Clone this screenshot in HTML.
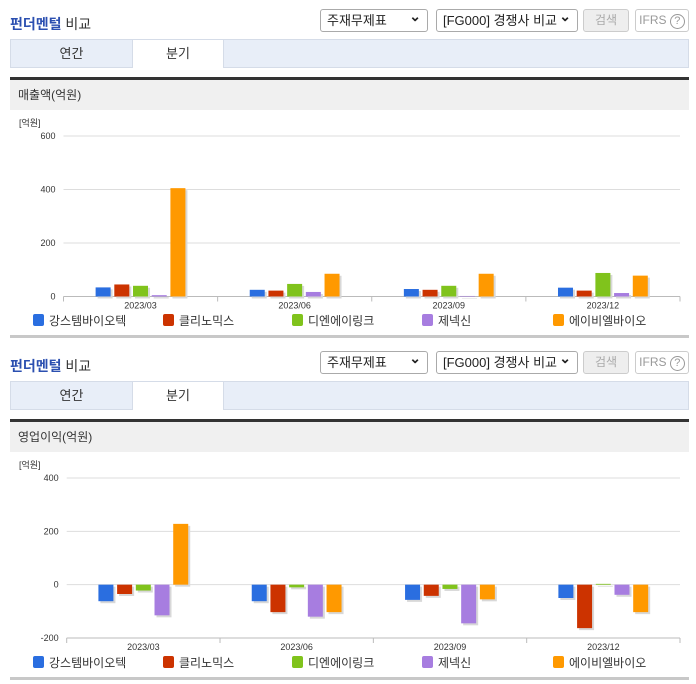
<!DOCTYPE html>
<html><head><meta charset="utf-8">
<style>
*{box-sizing:border-box;margin:0;padding:0}
body{width:696px;height:684px;background:#fff;font-family:"Liberation Sans","Noto Sans CJK KR",sans-serif;position:relative;overflow:hidden;color:#333}
.abs{position:absolute}
.title{font-size:14px;font-weight:bold;color:#2b4fb0;left:10px}
.title span{color:#333;font-weight:normal}
.sel{border:1px solid #aaa;border-radius:3px;height:23px;font-size:13px;line-height:21px;padding-left:6px;background:#fff;color:#222}
.sel:after{content:"⌄";position:absolute;right:6px;top:-4px;font-size:14px;font-weight:bold}
.btn{border:1px solid #ccc;border-radius:3px;height:23px;font-size:12px;line-height:21px;text-align:center;color:#aaa}
.tabbar{left:10px;width:679px;height:29px;background:#e8eef8;border:1px solid #d5dce8}
.tab{top:0;height:28px;font-size:13px;line-height:27px;text-align:center;color:#333}
.dark{left:10px;width:679px;height:3px;background:#333}
.hdr{left:10px;width:679px;height:30px;background:#f0f0f0;font-size:12px;line-height:30px;padding-left:8px;color:#333}
.bot{left:10px;width:679px;height:3px;background:#c8c8c8}
svg text{font-family:"Liberation Sans","Noto Sans CJK KR",sans-serif}
</style></head><body>
<div id="root"></div>
<script>
const categories=["2023/03","2023/06","2023/09","2023/12"];
const seriesNames=["강스템바이오텍","클리노믹스","디엔에이링크","제넥신","에이비엘바이오"];
const seriesColors=["#2a6ee0","#cc3300","#80c31c","#a77de0","#ff9900"];
const salesBlue=[34,25,28,33];
const salesRed=[45,22,25,22];
const salesGreen=[40,47,40,88];
const salesPurple=[5,17,2,13];
const salesOrange=[405,85,85,78];
const salesTicks=[0,200,400,600];
const opBlue=[-62,-62,-57,-50];
const opRed=[-35,-103,-42,-163];
const opGreen=[-22,-10,-16,3];
const opPurple=[-115,-120,-145,-38];
const opOrange=[228,-103,-55,-103];
const opTicks=[-200,0,200,400];

const root=document.getElementById('root');
const NS="http://www.w3.org/2000/svg";
function div(cls,style,html,name,inter){const d=document.createElement('div');d.className='abs '+cls;d.style.cssText=style;if(html)d.innerHTML=html;


root.appendChild(d);return d;}
function sv(tag,attrs,parent){const e=document.createElementNS(NS,tag);for(const k in attrs)e.setAttribute(k,attrs[k]);parent.appendChild(e);return e;}

function section(y0,label,series,ticks,yTop,yBot,xL,prefix){
  div('title','top:'+(y0+14)+'px','펀더멘털 <span>비교</span>',prefix+'-title',false);
  div('sel','left:320px;top:'+(y0+9)+'px;width:108px','주재무제표',prefix+'-statement-select',true);
  div('sel','left:436px;top:'+(y0+9)+'px;width:142px','[FG000] 경쟁사 비교',prefix+'-group-select',true);
  div('btn','left:583px;top:'+(y0+9)+'px;width:46px;background:#eee','검색',prefix+'-search-button',true);
  div('btn','left:635px;top:'+(y0+9)+'px;width:54px;color:#999','IFRS <span style="border:1px solid #999;border-radius:50%;display:inline-block;width:15px;height:15px;line-height:13px;font-size:11px">?</span>',prefix+'-ifrs-help',true);
  const tb=div('tabbar','top:'+(y0+39)+'px','',prefix+'-tab-bar',false);
  const t1=document.createElement('div');t1.className='abs tab';t1.style.cssText='left:0;width:121px';t1.textContent='연간';
  
  
  tb.appendChild(t1);
  const t2=document.createElement('div');t2.className='abs tab';t2.style.cssText='left:121px;width:92px;background:#fff;height:28px;border-left:1px solid #d5dce8;border-right:1px solid #d5dce8';t2.textContent='분기';
  
  
  tb.appendChild(t2);
  div('dark','top:'+(y0+77)+'px','',prefix+'-divider',false);
  div('hdr','top:'+(y0+80)+'px',label,prefix+'-chart-header',false);
  div('bot','top:'+(y0+335)+'px','',prefix+'-bottom-rule',false);

  const svg=document.createElementNS(NS,'svg');
  svg.setAttribute('width','696');svg.setAttribute('height','230');
  svg.style.cssText='position:absolute;left:0;top:'+(y0+110)+'px';
  
  
  root.appendChild(svg);
  const off=y0+110;
  const xR=680, tMin=ticks[0], tMax=ticks[ticks.length-1];
  const yS=v=>yBot-off-(v-tMin)/(tMax-tMin)*(yBot-yTop);
  const cw=(xR-xL)/categories.length;
  const t=sv('text',{x:19,y:yTop-off-10,'font-size':9,fill:'#333'},svg);t.textContent='[억원]';
  
  
  ticks.forEach(v=>{
    const y=yS(v);
    const g=sv('line',{x1:xL,x2:xR,y1:y,y2:y,stroke:v===0&&tMin===0?'#bbb':'#ddd','stroke-width':1},svg);
    
    
    const l=sv('text',{x:xL-8,y:y+3,'font-size':9,'text-anchor':'end',fill:'#333'},svg);l.textContent=v;
    
    
  });
  const yb=yS(tMin);
  const ax=sv('line',{x1:xL,x2:xR,y1:yb,y2:yb,stroke:'#bbb'},svg);
  
  
  for(let i=0;i<=categories.length;i++){
    const x=xL+i*cw;
    const tk=sv('line',{x1:x,x2:x,y1:yb,y2:yb+5,stroke:'#bbb'},svg);
    
    
  }
  const y0v=yS(0);
  const step=18.7,bw=15;
  categories.forEach((c,i)=>{
    const cx=xL+(i+0.5)*cw;
    const lb=sv('text',{x:cx,y:yb+12,'font-size':9,'text-anchor':'middle',fill:'#333'},svg);lb.textContent=c;
    
    
    series.forEach((s,j)=>{
      const x=cx-2.5*step+j*step+1.8;
      const yv=yS(s[i]);
      const top=Math.min(yv,y0v),h=Math.max(Math.abs(yv-y0v),0.5);
      const sh=sv('rect',{x:x+2,y:top+2,width:bw,height:h,fill:'#d8d8d8'},svg);
      
      
      const r=sv('rect',{x:x,y:top,width:bw,height:h,fill:seriesColors[j]},svg);
      
      
    });
  });
  const lx=[33,163,292,422,553];
  seriesNames.forEach((n,j)=>{
    const ly=y0+320-off;
    const sq=sv('rect',{x:lx[j],y:ly-6,width:11,height:12,rx:2,fill:seriesColors[j]},svg);
    
    
    const lt=sv('text',{x:lx[j]+16,y:ly+5,'font-size':12,fill:'#333'},svg);lt.textContent=n;
    
    
  });
}
section(0,'매출액(억원)',[salesBlue,salesRed,salesGreen,salesPurple,salesOrange],salesTicks,136,296.5,63.5,'sales');
section(342,'영업이익(억원)',[opBlue,opRed,opGreen,opPurple,opOrange],opTicks,478,638,66.7,'op-income');
</script>
</body></html>
